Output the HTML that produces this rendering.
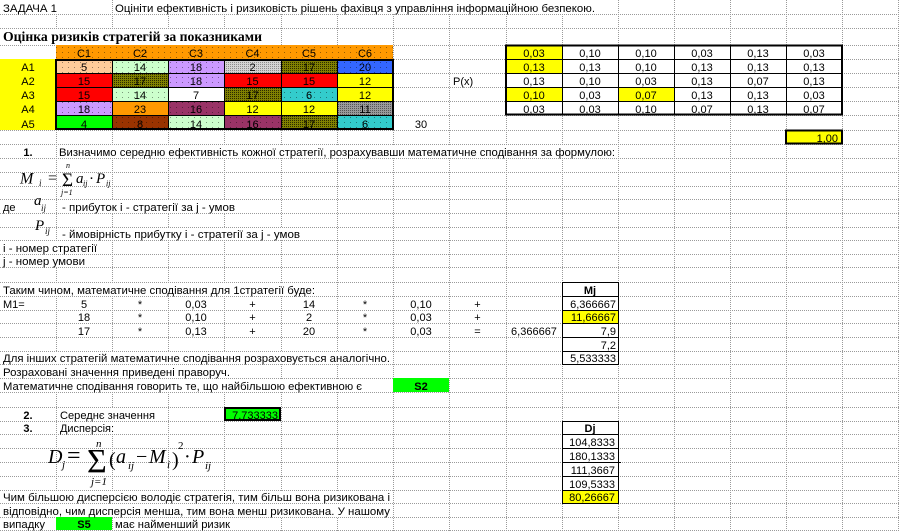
<!DOCTYPE html>
<html><head><meta charset="utf-8"><style>
html,body{margin:0;padding:0;background:#fff}
#w{width:899px;height:532px;overflow:hidden;position:relative}
svg{display:block}
.s{font-family:"Liberation Sans",Arial,sans-serif;font-size:11px;fill:#000}
.m{text-anchor:middle}
.e{text-anchor:end}
.b{font-weight:bold}
.f{font-family:"Liberation Serif","Times New Roman",serif;font-style:italic;fill:#000}
.fn{font-family:"Liberation Serif","Times New Roman",serif;fill:#000}
</style></head><body><div id="w">
<svg width="899" height="532" viewBox="0 0 899 532" xmlns="http://www.w3.org/2000/svg">
<defs>
<pattern id="ol" width="2" height="2" patternUnits="userSpaceOnUse"><rect width="2" height="2" fill="#808000"/><rect width="1" height="1" fill="#2a2a00"/></pattern>
<pattern id="g1" width="2" height="2" patternUnits="userSpaceOnUse"><rect width="2" height="2" fill="#d4d4d4"/><rect width="1" height="1" fill="#8c8c8c"/></pattern>
<pattern id="g2" width="2" height="2" patternUnits="userSpaceOnUse"><rect width="2" height="2" fill="#9a9a9a"/><rect width="1" height="1" fill="#555"/></pattern>
<pattern id="dt" width="6" height="5" patternUnits="userSpaceOnUse"><rect x="2" y="2" width="1" height="1" fill="#000" fill-opacity="0.4"/></pattern>
</defs>
<rect width="899" height="532" fill="#fff"/>
<!-- gridlines -->
<path fill="none" stroke="#9a9a9a" stroke-width="1" stroke-dasharray="1,1" d="
M56.5 0V532 M112.5 0V532 M168.5 0V532 M224.5 0V532 M281.5 0V532 M337.5 0V532 M393.5 0V532 M449.5 0V532 M506.5 0V532 M562.5 0V532 M618.5 0V532 M674.5 0V532 M730.5 0V532 M786.5 0V532 M842.5 0V532 M898.5 0V532
M0 14.5H899 M0 28.5H899 M0 45.5H899 M0 59.5H899 M0 73.5H899 M0 87.5H899 M0 101.5H899 M0 115.5H899 M0 130.5H899 M0 144.5H899 M0 158.5H899 M0 172.5H899 M0 186.5H899 M0 199.5H899 M0 213.5H899 M0 227.5H899 M0 240.5H899 M0 254.5H899 M0 267.5H899 M0 282.5H899 M0 296.5H899 M0 310.5H899 M0 323.5H899 M0 337.5H899 M0 351.5H899 M0 364.5H899 M0 378.5H899 M0 392.5H899 M0 407.5H899 M0 421.5H899 M0 434.5H899 M0 448.5H899 M0 462.5H899 M0 476.5H899 M0 490.5H899 M0 503.5H899 M0 517.5H899 M0 530.5H899"/>
<!-- overflow text covers -->
<g fill="#fff">
<rect x="0" y="0" width="112" height="14"/>
<rect x="113" y="0" width="505" height="14"/>
<rect x="0" y="29" width="281" height="16"/>
<rect x="57" y="145" width="561" height="13"/>
<rect x="57" y="200" width="224" height="13"/>
<rect x="57" y="228" width="280" height="12"/>
<rect x="0" y="241" width="112" height="13"/>
<rect x="0" y="255" width="112" height="12"/>
<rect x="0" y="283" width="337" height="13"/>
<rect x="0" y="352" width="393" height="12"/>
<rect x="0" y="365" width="281" height="13"/>
<rect x="0" y="379" width="393" height="13"/>
<rect x="57" y="408" width="111" height="13"/>
<rect x="57" y="422" width="111" height="12"/>
<rect x="0" y="491" width="393" height="12"/>
<rect x="0" y="504" width="393" height="13"/>
<rect x="113" y="518" width="168" height="12"/>
</g>
<!-- header fills -->
<rect x="56" y="45" width="337" height="14" fill="#FF9900"/>
<rect x="56" y="45" width="337" height="14" fill="url(#dt)"/>
<rect x="0" y="59" width="56" height="71" fill="#FFFF00"/>
<!-- data matrix fills -->
<g>
<rect x="56" y="59" width="56" height="14" fill="#FFCC99"/>
<rect x="112" y="59" width="56" height="14" fill="#CCFFCC"/>
<rect x="168" y="59" width="56" height="14" fill="#CC99FF"/>
<rect x="224" y="59" width="57" height="14" fill="url(#g1)"/>
<rect x="281" y="59" width="56" height="14" fill="url(#ol)"/>
<rect x="337" y="59" width="56" height="14" fill="#3366FF"/>

<rect x="56" y="73" width="56" height="14" fill="#FF0000"/>
<rect x="112" y="73" width="56" height="14" fill="url(#ol)"/>
<rect x="168" y="73" width="56" height="14" fill="#CC99FF"/>
<rect x="224" y="73" width="57" height="14" fill="#FF0000"/>
<rect x="281" y="73" width="56" height="14" fill="#FF0000"/>
<rect x="337" y="73" width="56" height="14" fill="#FFFF00"/>

<rect x="56" y="87" width="56" height="14" fill="#FF0000"/>
<rect x="112" y="87" width="56" height="14" fill="#CCFFCC"/>
<rect x="168" y="87" width="56" height="14" fill="#FFFFFF"/>
<rect x="224" y="87" width="57" height="14" fill="url(#ol)"/>
<rect x="281" y="87" width="56" height="14" fill="#33CCCC"/>
<rect x="337" y="87" width="56" height="14" fill="#FFFF00"/>

<rect x="56" y="101" width="56" height="14" fill="#CC99FF"/>
<rect x="112" y="101" width="56" height="14" fill="#FF9900"/>
<rect x="168" y="101" width="56" height="14" fill="#993366"/>
<rect x="224" y="101" width="57" height="14" fill="#FFFF00"/>
<rect x="281" y="101" width="56" height="14" fill="#FFFF00"/>
<rect x="337" y="101" width="56" height="14" fill="url(#g2)"/>

<rect x="56" y="115" width="56" height="15" fill="#00FF00"/>
<rect x="112" y="115" width="56" height="15" fill="#993300"/>
<rect x="168" y="115" width="56" height="15" fill="#CCFFCC"/>
<rect x="224" y="115" width="57" height="15" fill="#993366"/>
<rect x="281" y="115" width="56" height="15" fill="url(#ol)"/>
<rect x="337" y="115" width="56" height="15" fill="#33CCCC"/>
</g>
<!-- dots overlays -->
<g fill="url(#dt)">
<rect x="56" y="59" width="168" height="14"/>
<rect x="337" y="59" width="56" height="14"/>
<rect x="168" y="73" width="56" height="14"/>
<rect x="112" y="87" width="56" height="14"/>
<rect x="281" y="87" width="56" height="14"/>
<rect x="56" y="101" width="56" height="14"/>
<rect x="168" y="101" width="56" height="14"/>
<rect x="112" y="115" width="112" height="15"/>
<rect x="224" y="115" width="57" height="15"/>
<rect x="337" y="115" width="56" height="15"/>
</g>
<!-- probability matrix yellow -->
<g fill="#FFFF00">
<rect x="506" y="45" width="56" height="14"/>
<rect x="506" y="59" width="56" height="14"/>
<rect x="506" y="87" width="56" height="14"/>
<rect x="618" y="87" width="56" height="14"/>
<rect x="786" y="130" width="56" height="14"/>
<rect x="562" y="310" width="56" height="13"/>
<rect x="562" y="490" width="56" height="13"/>
</g>
<g fill="#00FF00">
<rect x="393" y="378" width="56" height="14"/>
<rect x="224" y="407" width="57" height="14"/>
<rect x="56" y="517" width="56" height="13"/>
</g>
<!-- borders -->
<g fill="none" stroke="#000">
<path stroke-width="1" d="M112.5 59V130 M168.5 59V130 M224.5 59V130 M281.5 59V130 M337.5 59V130 M56 73.5H393 M56 87.5H393 M56 101.5H393 M56 115.5H393"/>
<rect x="56" y="60" width="337" height="69" stroke-width="2"/>
<path stroke-width="1" d="M562.5 45V115 M618.5 45V115 M674.5 45V115 M730.5 45V115 M786.5 45V115 M506 59.5H842 M506 73.5H842 M506 87.5H842 M506 101.5H842"/>
<rect x="506" y="45.5" width="336" height="69" stroke-width="2"/>
<rect x="786" y="130.5" width="56" height="13" stroke-width="2"/>
<rect x="225" y="408" width="55" height="12" stroke-width="2"/>
<path stroke-width="1" d="M562.5 282V364 M618.5 282V364 M562 282.5H619 M562 296.5H619 M562 310.5H619 M562 323.5H619 M562 337.5H619 M562 351.5H619 M562 364.5H619"/>
<path stroke-width="1" d="M562.5 421V503 M618.5 421V503 M562 421.5H619 M562 434.5H619 M562 448.5H619 M562 462.5H621 M562 476.5H619 M562 490.5H619 M562 503.5H619"/>
</g>
<!-- text -->
<g class="s">
<text x="3" y="12" textLength="54" lengthAdjust="spacingAndGlyphs">ЗАДАЧА 1</text>
<text x="115" y="12" textLength="480" lengthAdjust="spacingAndGlyphs">Оцініти ефективність і ризиковість рішень фахівця з управління інформаційною безпекою.</text>
<text x="3" y="41" textLength="259" lengthAdjust="spacingAndGlyphs" style="font-family:'Liberation Serif','Times New Roman',serif;font-weight:bold;font-size:14px">Оцінка ризиків стратегій за показниками</text>
</g>
<g class="s m">
<text x="84" y="57">C1</text><text x="140" y="57">C2</text><text x="196" y="57">C3</text><text x="252.5" y="57">C4</text><text x="309" y="57">C5</text><text x="365" y="57">C6</text>
<text x="28" y="71">A1</text><text x="28" y="85">A2</text><text x="28" y="99">A3</text><text x="28" y="113">A4</text><text x="28" y="128">A5</text>
<text x="84" y="71">5</text><text x="140" y="71">14</text><text x="196" y="71">18</text><text x="252.5" y="71">2</text><text x="309" y="71">17</text><text x="365" y="71">20</text>
<text x="84" y="85">15</text><text x="140" y="85">17</text><text x="196" y="85">18</text><text x="252.5" y="85">15</text><text x="309" y="85">15</text><text x="365" y="85">12</text>
<text x="84" y="99">15</text><text x="140" y="99">14</text><text x="196" y="99">7</text><text x="252.5" y="99">17</text><text x="309" y="99">6</text><text x="365" y="99">12</text>
<text x="84" y="113">18</text><text x="140" y="113">23</text><text x="196" y="113">16</text><text x="252.5" y="113">12</text><text x="309" y="113">12</text><text x="365" y="113">11</text>
<text x="84" y="128">4</text><text x="140" y="128">8</text><text x="196" y="128">14</text><text x="252.5" y="128">16</text><text x="309" y="128">17</text><text x="365" y="128">6</text>
<text x="421" y="128">30</text>

<text x="534" y="57">0,03</text><text x="590" y="57">0,10</text><text x="646" y="57">0,10</text><text x="702" y="57">0,03</text><text x="758" y="57">0,13</text><text x="814" y="57">0,03</text>
<text x="534" y="71">0,13</text><text x="590" y="71">0,13</text><text x="646" y="71">0,10</text><text x="702" y="71">0,13</text><text x="758" y="71">0,13</text><text x="814" y="71">0,13</text>
<text x="534" y="85">0,13</text><text x="590" y="85">0,10</text><text x="646" y="85">0,03</text><text x="702" y="85">0,13</text><text x="758" y="85">0,07</text><text x="814" y="85">0,13</text>
<text x="534" y="99">0,10</text><text x="590" y="99">0,03</text><text x="646" y="99">0,07</text><text x="702" y="99">0,13</text><text x="758" y="99">0,13</text><text x="814" y="99">0,03</text>
<text x="534" y="113">0,03</text><text x="590" y="113">0,03</text><text x="646" y="113">0,10</text><text x="702" y="113">0,07</text><text x="758" y="113">0,13</text><text x="814" y="113">0,07</text>

<text x="28" y="156" class="b">1.</text>
<text x="28" y="419" class="b">2.</text>
<text x="28" y="432" class="b">3.</text>

<text x="84" y="308">5</text><text x="140" y="308">*</text><text x="196" y="308">0,03</text><text x="252.5" y="308">+</text><text x="309" y="308">14</text><text x="365" y="308">*</text><text x="421" y="308">0,10</text><text x="477.5" y="308">+</text>
<text x="84" y="321">18</text><text x="140" y="321">*</text><text x="196" y="321">0,10</text><text x="252.5" y="321">+</text><text x="309" y="321">2</text><text x="365" y="321">*</text><text x="421" y="321">0,03</text><text x="477.5" y="321">+</text>
<text x="84" y="335">17</text><text x="140" y="335">*</text><text x="196" y="335">0,13</text><text x="252.5" y="335">+</text><text x="309" y="335">20</text><text x="365" y="335">*</text><text x="421" y="335">0,03</text><text x="477.5" y="335">=</text>
<text x="534" y="335">6,366667</text>

<text x="590" y="294" class="b">Mj</text>
<text x="590" y="432" class="b">Dj</text>
<text x="421" y="390" class="b">S2</text>
<text x="84" y="528" class="b">S5</text>
</g>
<g class="s">
<text x="453" y="85">P(x)</text>
<text x="59" y="156" textLength="556" lengthAdjust="spacingAndGlyphs">Визначимо середню ефективність кожної стратегії, розрахувавши математичне сподівання за формулою:</text>
<text x="3" y="211">де</text>
<text x="62" y="211" textLength="173" lengthAdjust="spacingAndGlyphs">- прибуток i - стратегії за j - умов</text>
<text x="62" y="238" textLength="238" lengthAdjust="spacingAndGlyphs">- ймовірність прибутку i - стратегії за j - умов</text>
<text x="3" y="252" textLength="94" lengthAdjust="spacingAndGlyphs">i - номер стратегії</text>
<text x="3" y="265" textLength="82" lengthAdjust="spacingAndGlyphs">j - номер умови</text>
<text x="3" y="294" textLength="312" lengthAdjust="spacingAndGlyphs">Таким чином, математичне сподівання для 1стратегії буде:</text>
<text x="3" y="308">M1=</text>
<text x="3" y="362" textLength="387" lengthAdjust="spacingAndGlyphs">Для інших стратегій математичне сподівання розраховується аналогічно.</text>
<text x="3" y="376" textLength="227" lengthAdjust="spacingAndGlyphs">Розраховані значення приведені праворуч.</text>
<text x="3" y="390" textLength="359" lengthAdjust="spacingAndGlyphs">Математичне сподівання говорить те, що найбільшою ефективною є</text>
<text x="60" y="419" textLength="95" lengthAdjust="spacingAndGlyphs">Середнє значення</text>
<text x="60" y="432" textLength="54" lengthAdjust="spacingAndGlyphs">Дисперсія:</text>
<text x="3" y="501" textLength="387" lengthAdjust="spacingAndGlyphs">Чим більшою дисперсією володіє стратегія, тим більш вона ризикована і</text>
<text x="3" y="515" textLength="387" lengthAdjust="spacingAndGlyphs">відповідно, чим дисперсія менша, тим вона менш ризикована. У нашому</text>
<text x="3" y="528" textLength="42" lengthAdjust="spacingAndGlyphs">випадку</text>
<text x="115" y="528" textLength="115" lengthAdjust="spacingAndGlyphs">має найменший ризик</text>
</g>
<g class="s e">
<text x="838" y="142">1,00</text>
<text x="616" y="308">6,366667</text>
<text x="616" y="321">11,66667</text>
<text x="616" y="335">7,9</text>
<text x="616" y="349">7,2</text>
<text x="616" y="362">5,533333</text>
<text x="278" y="419">7,733333</text>
<text x="615" y="446">104,8333</text>
<text x="615" y="460">180,1333</text>
<text x="615" y="474">111,3667</text>
<text x="615" y="488">109,5333</text>
<text x="615" y="501">80,26667</text>
</g>
<!-- formula M -->
<g>
<text class="f" x="20" y="183.5" font-size="16">M</text>
<text class="f" x="39" y="186" font-size="9">i</text>
<text class="fn" x="48" y="183" font-size="16">=</text>
<text class="fn" x="62" y="186" font-size="19">Σ</text>
<text class="f" x="66" y="168" font-size="8">n</text>
<text class="f" x="61" y="195" font-size="8">j=1</text>
<text class="f" x="76" y="183" font-size="15">a</text>
<text class="f" x="83" y="186" font-size="8">ij</text>
<text class="fn" x="89" y="183" font-size="15">·</text>
<text class="f" x="96" y="183" font-size="15">P</text>
<text class="f" x="106" y="186" font-size="8">ij</text>
</g>
<!-- a_ij, P_ij -->
<g>
<text class="f" x="34" y="205" font-size="15">a</text>
<text class="f" x="41" y="211" font-size="9">ij</text>
<text class="f" x="35" y="230" font-size="15">P</text>
<text class="f" x="45" y="234" font-size="9">ij</text>
</g>
<!-- formula D -->
<g>
<text class="f" x="48" y="463" font-size="20">D</text>
<text class="f" x="62" y="468" font-size="11">j</text>
<text class="fn" x="67" y="463" font-size="24">=</text>
<text class="fn" x="87" y="472" font-size="34">Σ</text>
<text class="f" x="96" y="447" font-size="11">n</text>
<text class="f" x="91" y="485" font-size="11">j=1</text>
<text class="fn" x="109" y="466" font-size="20">(</text>
<text class="f" x="116" y="463" font-size="20">a</text>
<text class="f" x="128" y="469" font-size="11">ij</text>
<text class="fn" x="136" y="463" font-size="20">−</text>
<text class="f" x="149" y="463" font-size="20">M</text>
<text class="f" x="167" y="468" font-size="11">i</text>
<text class="fn" x="172" y="466" font-size="20">)</text>
<text class="fn" x="178" y="449" font-size="11">2</text>
<text class="fn" x="184" y="463" font-size="20">·</text>
<text class="f" x="192" y="463" font-size="20">P</text>
<text class="f" x="205" y="469" font-size="11">ij</text>
</g>
</svg>
</div></body></html>
